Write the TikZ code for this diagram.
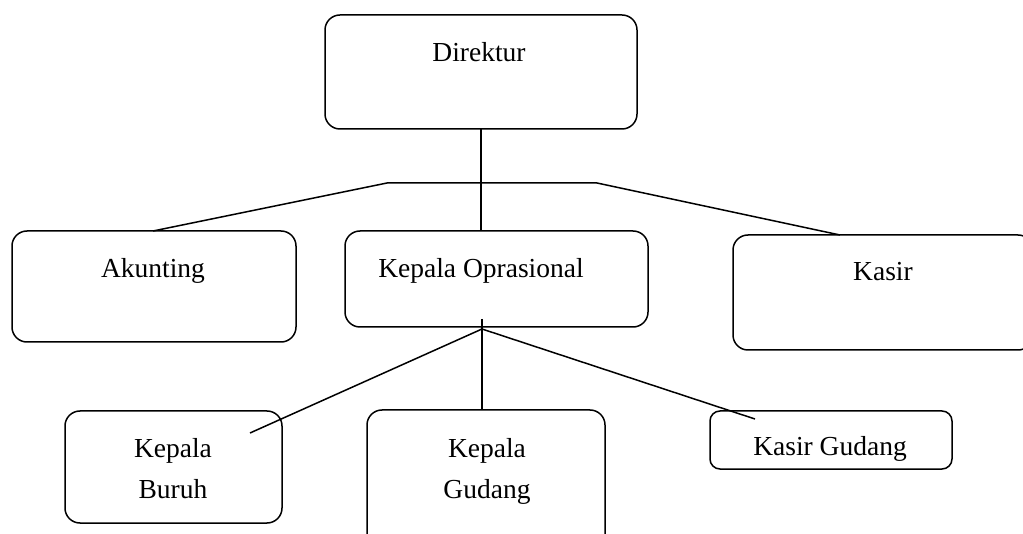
\documentclass[tikz,border=0pt]{standalone}
\usepackage{fontspec}
\setmainfont{Liberation Serif}
\begin{document}
\begin{tikzpicture}[x=1pt,y=-1pt,
  box/.style={draw=black, line width=1.5pt, rounded corners=15pt, anchor=north west, inner sep=0pt, outer sep=0pt},
  smallbox/.style={box, rounded corners=10pt},
  lbl/.style={anchor=base, inner sep=0pt, font=\fontsize{27.5}{40}\selectfont},
  link/.style={draw=black, line width=1.5pt}]
\useasboundingbox (0,0) rectangle (1023,534);
\begin{scope}
\clip (0,0) rectangle (1023,534);
% boxes
\node[box, minimum width=312pt, minimum height=114pt] (dir) at (325,15) {};
\node[box, minimum width=284pt, minimum height=111pt] (ak) at (12,231) {};
\node[box, minimum width=303pt, minimum height=96pt] (ko) at (345,231) {};
\node[box, minimum width=300pt, minimum height=115pt] (ks) at (733,235) {};
\node[box, minimum width=217pt, minimum height=112pt] (kb) at (65,411) {};
\node[box, minimum width=238pt, minimum height=150pt] (kg) at (367,410) {};
\node[smallbox, minimum width=242pt, minimum height=58pt] (ksg) at (710,411) {};
\end{scope}
% labels
\node[lbl] (tdir) at (479,62) {Direktur};
\node[lbl] (tak) at (153,278) {Akunting};
\node[lbl] (tko) at (481,278) {Kepala Oprasional};
\node[lbl] (tks) at (883,281) {Kasir};
\node[lbl] (tkb1) at (173,457) {Kepala};
\node[lbl] (tkb2) at (173,498) {Buruh};
\node[lbl] (tkg1) at (487,457) {Kepala};
\node[lbl] (tkg2) at (487,498) {Gudang};
% the text frame of this box cuts off the descenders
\begin{scope}
\clip (710,411) rectangle (952,463);
\node[lbl] (tksg) at (830,455) {Kasir Gudang};
\end{scope}
% connector points
\coordinate (hl) at (387,183);
\coordinate (hr) at (597,183);
\coordinate (akin) at (153,231);
\coordinate (ksin) at (840,235);
\coordinate (dirb) at (481,129);
\coordinate (kot) at (481,231);
\coordinate (jtop) at (482,319);
\coordinate (j) at (482,329);
\coordinate (kgt) at (482,410);
\coordinate (kbend) at (250,433);
\coordinate (ksgend) at (755,419);
% upper level
\draw[link] (dirb) -- (kot);
\draw[link] (akin) -- (hl) -- (hr) -- (ksin);
% lower level
\draw[link] (jtop) -- (kgt);
\draw[link] (kbend) -- (j) -- (ksgend);
\end{tikzpicture}
\end{document}
